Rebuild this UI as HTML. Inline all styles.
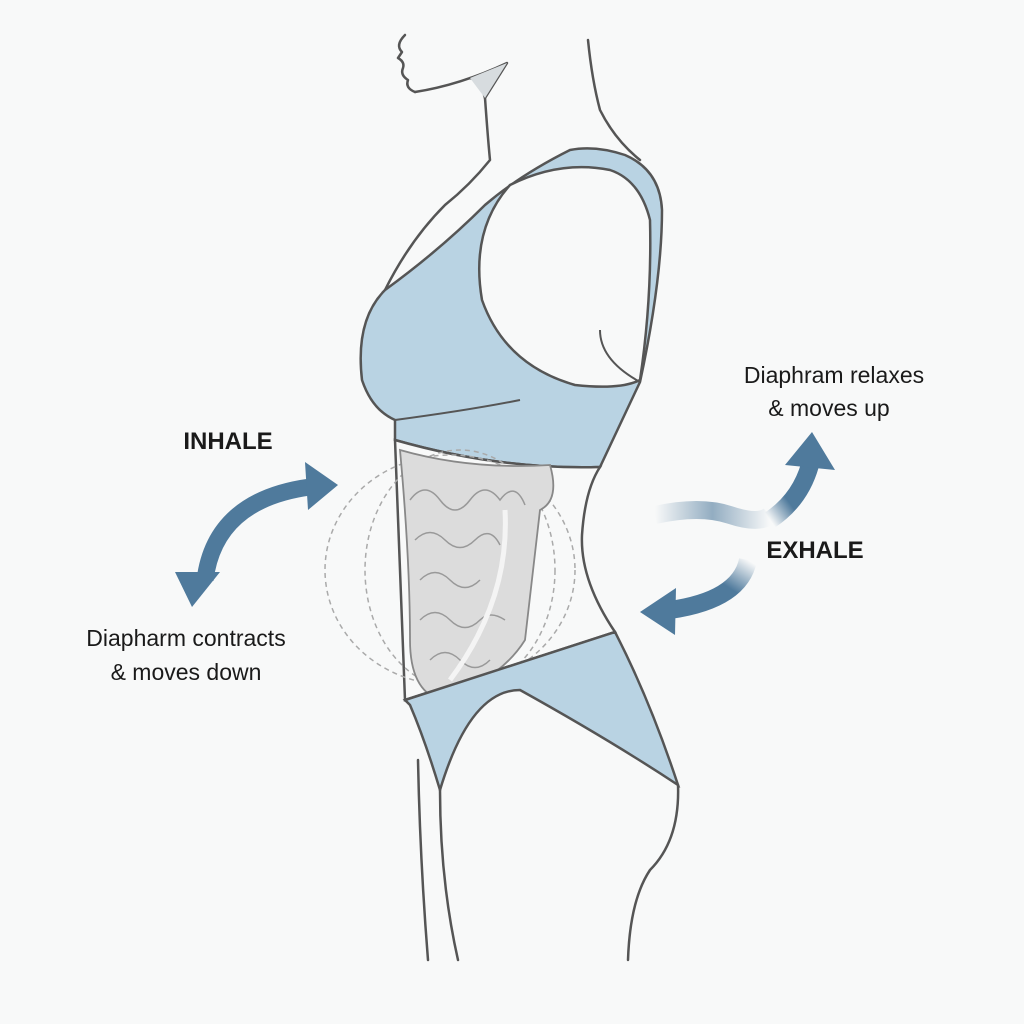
<!DOCTYPE html>
<html><head><meta charset="utf-8"><style>
html,body{margin:0;padding:0;background:#f8f9f9;}
svg{display:block}
text{font-family:"Liberation Sans",sans-serif;fill:#1a1a1a}
</style></head><body>
<svg width="1024" height="1024" viewBox="0 0 1024 1024">
<defs>
<linearGradient id="fadeL" x1="0" x2="1"><stop offset="0" stop-color="#4f7a9c" stop-opacity="0"/><stop offset="0.5" stop-color="#4f7a9c" stop-opacity="0.6"/><stop offset="1" stop-color="#4f7a9c" stop-opacity="0"/></linearGradient>
<linearGradient id="fadeU" x1="0" y1="1" x2="1" y2="0"><stop offset="0" stop-color="#4f7a9c" stop-opacity="0"/><stop offset="0.4" stop-color="#4f7a9c"/></linearGradient>
<linearGradient id="fadeD" x1="1" y1="0" x2="0" y2="1"><stop offset="0" stop-color="#4f7a9c" stop-opacity="0"/><stop offset="0.4" stop-color="#4f7a9c"/></linearGradient>
</defs>
<rect width="1024" height="1024" fill="#f8f9f9"/>
<g fill="none" stroke="#555" stroke-width="2.5" stroke-linecap="round" stroke-linejoin="round">
<path d="M405 35 Q395 45 402 52 L398 58 Q405 62 403 68 Q400 75 408 80 Q405 88 415 92"/>
<path d="M415 92 Q460 85 507 63 L485 98 Q480 80 470 78"/>
<path d="M485 98 Q488 140 490 160 Q470 185 445 205 Q410 240 385 290"/>
<path d="M588 40 Q592 80 600 110 Q615 140 640 160"/>
<path d="M418 760 Q420 860 428 960"/>
<path d="M440 790 Q440 880 458 960"/>
<path d="M678 785 Q680 840 650 870 Q630 900 628 960"/>
</g>
<path d="M485 98 L507 63 L470 78 Z" fill="#d7dcdf"/>
<path d="M385 290 Q355 320 362 380 Q372 410 395 420 L395 440 Q500 470 600 467 L640 382 Q662 280 662 210 Q660 170 625 155 Q595 145 570 150 Q520 175 485 205 Q440 250 385 290 Z" fill="#b9d3e3" stroke="#555" stroke-width="2.5"/>
<path d="M510 185 Q470 230 482 300 Q505 365 575 385 Q620 390 640 380 Q652 300 650 220 Q640 180 610 170 Q560 160 510 185 Z" fill="#f8f9f9" stroke="#555" stroke-width="2.5"/>
<path d="M395 420 Q470 410 520 400 M640 382 Q600 360 600 330" fill="none" stroke="#555" stroke-width="2"/>
<path d="M395 440 Q400 560 405 700 L615 632 Q580 580 582 535 Q585 490 600 467 Q500 470 395 440 Z" fill="#f8f9f9" stroke="#555" stroke-width="2.5"/>
<ellipse cx="450" cy="570" rx="125" ry="115" fill="none" stroke="#aaa" stroke-width="1.5" stroke-dasharray="5 4"/>
<ellipse cx="460" cy="570" rx="95" ry="120" fill="none" stroke="#aaa" stroke-width="1.5" stroke-dasharray="5 4"/>
<g stroke="#888" stroke-width="1.8" fill="#dcdcdc">
<path d="M400 450 Q470 470 550 465 Q560 500 540 510 L525 640 Q500 680 440 700 Q410 690 410 640 Q410 560 400 450 Z"/>
</g>
<g fill="none" stroke="#999" stroke-width="1.5">
<path d="M410 500 q15 -20 30 0 q15 20 30 0 q15 -20 30 0 q15 -20 25 5"/>
<path d="M415 540 q15 -15 30 0 q15 15 30 0 q15 -15 25 5"/>
<path d="M420 580 q15 -15 30 0 q15 15 30 0"/>
<path d="M420 620 q15 -15 30 0 q15 15 30 0 q10 -10 25 0"/>
<path d="M430 660 q15 -15 30 0 q15 15 30 0"/>
<path d="M505 510 Q510 600 450 680" stroke="#f4f4f4" stroke-width="5"/>
</g>
<path d="M405 700 L615 632 Q650 700 678 785 Q610 740 520 690 Q470 690 440 790 Q425 740 410 705 Z" fill="#b9d3e3" stroke="#555" stroke-width="2.5"/>
<path d="M205 580 Q215 500 310 487" fill="none" stroke="#4f7a9c" stroke-width="17"/>
<path d="M305 462 L338 485 L308 510 Z" fill="#4f7a9c"/>
<path d="M175 572 L220 572 L192 607 Z" fill="#4f7a9c"/>
<path d="M655 515 Q700 505 730 515 Q760 525 770 515" fill="none" stroke="url(#fadeL)" stroke-width="18"/>
<path d="M770 520 Q800 500 810 465" fill="none" stroke="url(#fadeU)" stroke-width="18"/>
<path d="M785 465 L812 432 L835 470 Z" fill="#4f7a9c"/>
<path d="M748 560 Q740 600 670 610" fill="none" stroke="url(#fadeD)" stroke-width="18"/>
<path d="M676 588 L640 612 L675 635 Z" fill="#4f7a9c"/>
<text x="228" y="449" font-size="24" font-weight="bold" text-anchor="middle">INHALE</text>
<text x="186" y="646" font-size="23" text-anchor="middle">Diapharm contracts</text>
<text x="186" y="680" font-size="23" text-anchor="middle">&amp; moves down</text>
<text x="834" y="383" font-size="23" text-anchor="middle">Diaphram relaxes</text>
<text x="829" y="416" font-size="23" text-anchor="middle">&amp; moves up</text>
<text x="815" y="558" font-size="24" font-weight="bold" text-anchor="middle">EXHALE</text>
</svg>
</body></html>
